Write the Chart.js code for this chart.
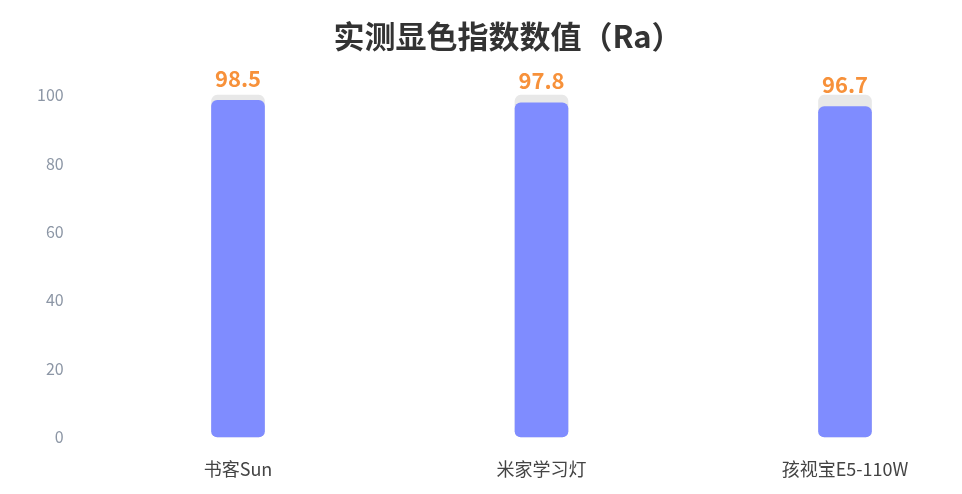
<!DOCTYPE html>
<html><head><meta charset="utf-8">
<script src="https://cdn.jsdelivr.net/npm/chart.js@4/dist/chart.umd.min.js"></script>
<style>html,body{margin:0;padding:0;background:#fff}#wrap{width:962px;height:494px}</style>
</head><body><div id="wrap"><canvas id="c" width="962" height="494"></canvas></div>
<script>
const categories = ['书客Sun', '米家学习灯', '孩视宝E5-110W'];
const raValues = [98.5, 97.8, 96.7];
const backgroundValues = [100, 100, 100];
const yTicks = [0, 20, 40, 60, 80, 100];
const FONT = '"Noto Sans CJK SC", "Noto Sans", sans-serif';

const valueLabels = {
  id: 'valueLabels',
  afterDatasetsDraw(chart) {
    const ctx = chart.ctx;
    const meta = chart.getDatasetMeta(0);
    ctx.save();
    ctx.fillStyle = '#f7913a';
    ctx.font = 'bold 22px ' + FONT;
    ctx.textAlign = 'center';
    ctx.textBaseline = 'middle';
    meta.data.forEach((bar, i) => {
      ctx.fillText(raValues[i].toFixed(1), bar.x, bar.y - 22);
    });
    ctx.restore();
  }
};

new Chart(document.getElementById('c'), {
  type: 'bar',
  data: {
    labels: categories,
    datasets: [
      { data: raValues, backgroundColor: '#7f8cff', borderRadius: 6, borderSkipped: false, barThickness: 53, grouped: false, order: 1, clip: false },
      { data: backgroundValues, backgroundColor: '#e8e8e8', borderRadius: 6, borderSkipped: false, barThickness: 53, grouped: false, order: 2, clip: false }
    ]
  },
  options: {
    responsive: false,
    animation: false,
    layout: { padding: { left: 54, right: 0, top: 0, bottom: 0 } },
    plugins: {
      legend: { display: false },
      tooltip: { enabled: false },
      title: {
        display: true,
        text: '实测显色指数数值（Ra）',
        color: '#333333',
        font: { family: FONT, size: 31, weight: 'bold', lineHeight: 1.2 },
        padding: { top: 18, bottom: 40 }
      }
    },
    scales: {
      x: {
        offset: false,
        grid: { display: false, drawTicks: false },
        border: { display: false },
        ticks: { color: '#444444', font: { family: FONT, size: 18 }, padding: 21, maxRotation: 0 },
        afterFit(s) { s.height = 57; s.paddingLeft = 0; s.paddingRight = 0; }
      },
      y: {
        min: 0, max: 100,
        afterBuildTicks(s) { s.ticks = yTicks.map(v => ({ value: v })); },
        grid: { display: false, drawTicks: false },
        border: { display: false },
        ticks: { color: '#8c96a5', font: { family: FONT, size: 16 }, mirror: true, crossAlign: 'far', padding: -201 },
        afterFit(s) { s.width = 184; s.paddingTop = 0; s.paddingBottom = 0; }
      },
      yRight: {
        type: 'linear',
        position: 'right',
        display: true,
        grid: { display: false, drawTicks: false },
        border: { display: false },
        ticks: { display: false },
        afterFit(s) { s.width = 117; s.paddingTop = 0; s.paddingBottom = 0; }
      }
    }
  },
  plugins: [valueLabels]
});
</script></body></html>
